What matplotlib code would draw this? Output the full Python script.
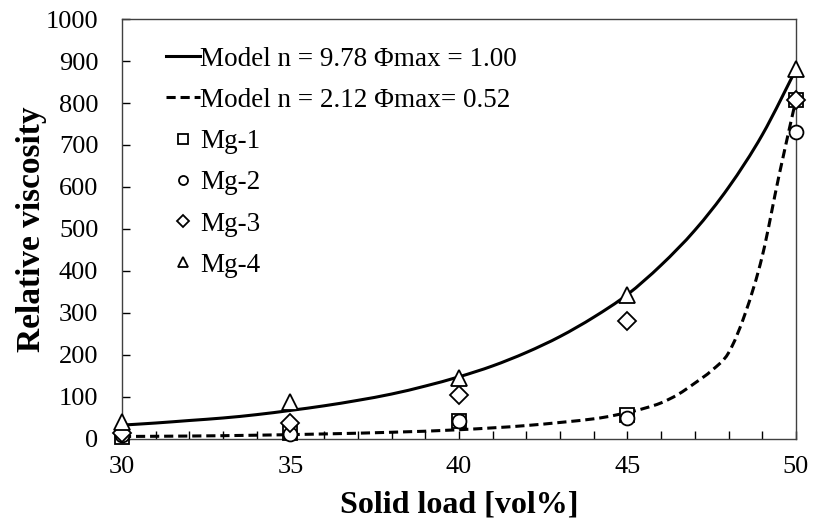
import matplotlib
matplotlib.use("Agg")
import matplotlib.pyplot as plt
from matplotlib.path import Path
from matplotlib.patches import PathPatch
from matplotlib.ticker import MultipleLocator


# solid load [vol%] for the measured samples
solid_load = [30, 35, 40, 45, 50]
mg1 = [5, 15, 44, 58, 808]
mg2 = [10, 11, 42, 50, 730]
mg3 = [14, 37, 104, 280, 808]
mg4 = [40, 88, 146, 342, 880]

# model curves
model1_x = [30, 31, 32, 33, 34, 35, 36, 37, 38, 39, 40, 41, 42, 43, 44, 45, 46, 47, 48, 49, 50]
model1_y = [33, 38, 44, 50, 58, 68, 79, 92, 107, 126, 148, 174, 206, 244, 290, 344, 414, 497, 599, 724, 880]
model2_x = [30, 32, 34, 36, 38, 40, 42, 44, 45, 45.5, 46, 46.5, 47, 47.5, 48, 48.5, 49, 49.5, 50]
model2_y = [6, 7, 9, 12, 16, 22, 32, 48, 63, 73, 86, 106, 133, 163, 205, 300, 435, 628, 808]

label_model1 = "Model n = 9.78 Φmax = 1.00"
label_model2 = "Model n = 2.12 Φmax= 0.52"


def smooth_path(xs, ys):
    # Catmull-Rom style cubic Bezier through the points (like a smoothed Excel line)
    pts = list(zip(xs, ys))
    verts = [pts[0]]
    codes = [Path.MOVETO]
    for i in range(len(pts) - 1):
        p0 = pts[i - 1] if i > 0 else pts[i]
        p1 = pts[i]
        p2 = pts[i + 1]
        p3 = pts[i + 2] if i + 2 < len(pts) else pts[i + 1]
        c1 = (p1[0] + (p2[0] - p0[0]) / 6, p1[1] + (p2[1] - p0[1]) / 6)
        c2 = (p2[0] - (p3[0] - p1[0]) / 6, p2[1] - (p3[1] - p1[1]) / 6)
        verts += [c1, c2, p2]
        codes += [Path.CURVE4] * 3
    return Path(verts, codes)


def main() -> None:
    plt.rcParams["font.family"] = ["Liberation Serif", "DejaVu Serif"]

    fig = plt.figure(figsize=(8.13, 5.28), dpi=100)
    ax = fig.add_axes([0.150, 0.1686, 0.829, 0.7954])

    dash = (0, (3, 1.6))
    ax.add_patch(PathPatch(smooth_path(model1_x, model1_y), fill=False,
                           edgecolor="black", lw=2.2, capstyle="butt"))
    ax.add_patch(PathPatch(smooth_path(model2_x, model2_y), fill=False,
                           edgecolor="black", lw=2.2, ls=dash, capstyle="butt"))
    # legend handles for the model curves
    ax.plot([], [], color="black", lw=2.2, label=label_model1)
    ax.plot([], [], color="black", lw=2.2, ls=dash, label=label_model2)

    mk = dict(ls="none", mfc="white", mec="black", mew=1.3, ms=10, clip_on=False, zorder=3)
    ax.plot(solid_load, mg1, marker="s", label="Mg-1", **mk)
    ax.plot(solid_load, mg2, marker="o", label="Mg-2", **mk)
    ax.plot(solid_load, mg3, marker="D", label="Mg-3", **{**mk, "ms": 9})
    ax.plot(solid_load, mg4, marker="^", label="Mg-4", **{**mk, "ms": 12})

    ax.set_xlim(30, 50)
    ax.set_ylim(0, 1000)
    ax.xaxis.set_major_locator(MultipleLocator(5))
    ax.xaxis.set_minor_locator(MultipleLocator(1))
    ax.yaxis.set_major_locator(MultipleLocator(100))
    ax.tick_params(axis="both", which="both", direction="in", labelsize=19,
                   top=False, right=False, length=6, width=1)
    ax.tick_params(axis="x", which="major", pad=12)
    ax.tick_params(axis="y", which="major", pad=17)
    for spine in ax.spines.values():
        spine.set_linewidth(1.0)
        spine.set_color("#404040")

    ax.set_xlabel("Solid load [vol%]", fontsize=23, fontweight="bold", labelpad=9)
    ax.set_ylabel("Relative viscosity", fontsize=24, fontweight="bold", labelpad=-1)

    ax.legend(loc="upper left", frameon=False, fontsize=19.5, handlelength=1.25,
              handletextpad=0.0, labelspacing=0.6, markerscale=0.65,
              borderaxespad=0.0, bbox_to_anchor=(0.05, 0.96))

    fig.savefig("out.png", dpi=100)
    plt.close(fig)


if __name__ == "__main__":
    main()
